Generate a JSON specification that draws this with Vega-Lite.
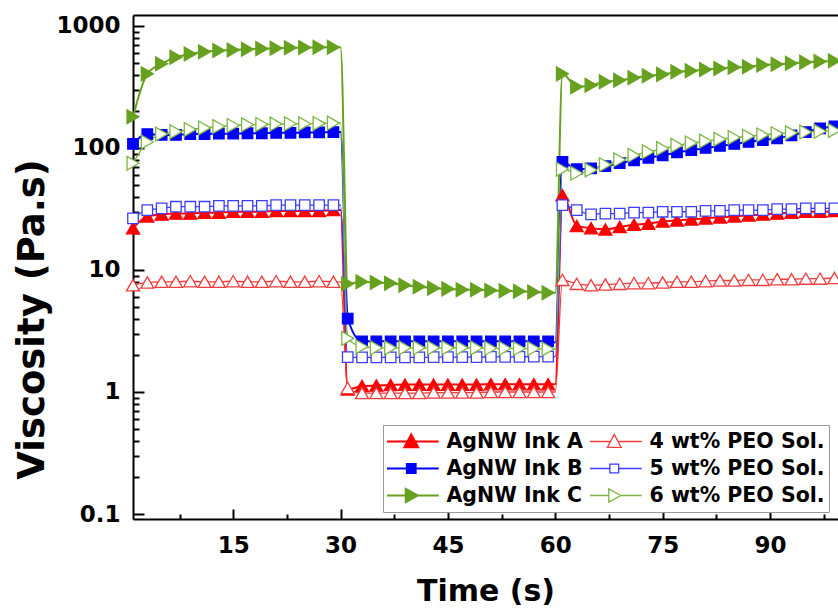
{
  "$schema": "https://vega.github.io/schema/vega-lite/v6.json",
  "width": 705,
  "height": 504,
  "autosize": {"type": "none"},
  "padding": {"left": 133, "top": 15, "right": 0, "bottom": 92},
  "background": "white",
  "config": {
    "view": {"stroke": null},
    "axis": {
      "grid": false,
      "domainColor": "black",
      "domainWidth": 2,
      "tickColor": "black",
      "tickWidth": 2,
      "labelFont": "DejaVu Sans",
      "labelFontWeight": "bold",
      "labelFontSize": 23,
      "labelColor": "black",
      "titleFont": "DejaVu Sans",
      "titleFontWeight": "bold",
      "titleColor": "black",
      "labelOverlap": false,
      "labelFlush": false,
      "labelBound": false
    }
  },
  "data": {
    "values": [
      {"t": 1, "A": 22, "B": 108, "C": 180, "P4": 7.5, "P5": 26.5, "P6": 75},
      {"t": 3, "A": 27.5, "B": 130, "C": 405, "P4": 7.9, "P5": 31, "P6": 112},
      {"t": 5, "A": 28.5, "B": 128, "C": 490, "P4": 8.0, "P5": 32, "P6": 130},
      {"t": 7, "A": 29, "B": 128, "C": 555, "P4": 8.0, "P5": 33, "P6": 136},
      {"t": 9, "A": 29, "B": 130, "C": 590, "P4": 8.1, "P5": 33, "P6": 142},
      {"t": 11, "A": 29.5, "B": 130, "C": 615, "P4": 8.0, "P5": 33, "P6": 146},
      {"t": 13, "A": 29.5, "B": 131, "C": 630, "P4": 8.0, "P5": 33.5, "P6": 150},
      {"t": 15, "A": 30, "B": 131, "C": 635, "P4": 8.1, "P5": 33.5, "P6": 153},
      {"t": 17, "A": 30, "B": 132, "C": 645, "P4": 8.0, "P5": 33.5, "P6": 155},
      {"t": 19, "A": 30, "B": 132, "C": 652, "P4": 8.0, "P5": 33.5, "P6": 156},
      {"t": 21, "A": 30.5, "B": 133, "C": 658, "P4": 8.1, "P5": 34, "P6": 157},
      {"t": 23, "A": 30.5, "B": 133, "C": 662, "P4": 8.0, "P5": 34, "P6": 158},
      {"t": 25, "A": 30.5, "B": 134, "C": 665, "P4": 8.0, "P5": 34, "P6": 158},
      {"t": 27, "A": 30.5, "B": 134, "C": 668, "P4": 8.1, "P5": 34, "P6": 159},
      {"t": 29, "A": 31, "B": 135, "C": 670, "P4": 8.0, "P5": 34, "P6": 160},
      {"t": 30, "A": 31, "B": 135, "C": 670, "P4": 8.0, "P5": 34, "P6": 160},
      {"t": 31, "A": 1.05, "B": 4.0, "C": 7.7, "P4": 1.08, "P5": 1.93, "P6": 2.75},
      {"t": 33, "A": 1.12, "B": 2.6, "C": 8.0, "P4": 0.98, "P5": 1.92, "P6": 2.35},
      {"t": 35, "A": 1.13, "B": 2.6, "C": 7.9, "P4": 0.98, "P5": 1.92, "P6": 2.3},
      {"t": 37, "A": 1.14, "B": 2.6, "C": 7.8, "P4": 0.98, "P5": 1.92, "P6": 2.3},
      {"t": 39, "A": 1.15, "B": 2.6, "C": 7.5, "P4": 0.98, "P5": 1.92, "P6": 2.3},
      {"t": 41, "A": 1.15, "B": 2.6, "C": 7.3, "P4": 0.98, "P5": 1.92, "P6": 2.3},
      {"t": 43, "A": 1.15, "B": 2.6, "C": 7.1, "P4": 0.99, "P5": 1.93, "P6": 2.3},
      {"t": 45, "A": 1.15, "B": 2.6, "C": 7.0, "P4": 0.99, "P5": 1.93, "P6": 2.3},
      {"t": 47, "A": 1.15, "B": 2.6, "C": 6.9, "P4": 0.99, "P5": 1.93, "P6": 2.3},
      {"t": 49, "A": 1.15, "B": 2.6, "C": 6.9, "P4": 0.99, "P5": 1.93, "P6": 2.3},
      {"t": 51, "A": 1.16, "B": 2.6, "C": 6.8, "P4": 1.0, "P5": 1.94, "P6": 2.28},
      {"t": 53, "A": 1.16, "B": 2.6, "C": 6.75, "P4": 1.0, "P5": 1.94, "P6": 2.28},
      {"t": 55, "A": 1.16, "B": 2.6, "C": 6.7, "P4": 1.0, "P5": 1.94, "P6": 2.27},
      {"t": 57, "A": 1.16, "B": 2.6, "C": 6.6, "P4": 1.0, "P5": 1.95, "P6": 2.27},
      {"t": 59, "A": 1.16, "B": 2.6, "C": 6.5, "P4": 1.0, "P5": 1.95, "P6": 2.25},
      {"t": 60, "A": 1.16, "B": 2.55, "C": 6.5, "P4": 1.0, "P5": 1.95, "P6": 2.25},
      {"t": 61, "A": 41, "B": 77, "C": 405, "P4": 8.3, "P5": 34, "P6": 67},
      {"t": 63, "A": 23, "B": 67, "C": 317, "P4": 7.7, "P5": 31, "P6": 62},
      {"t": 65, "A": 22, "B": 68, "C": 327, "P4": 7.5, "P5": 28.6, "P6": 66},
      {"t": 67, "A": 21.5, "B": 71, "C": 349, "P4": 7.6, "P5": 29, "P6": 73},
      {"t": 69, "A": 22.5, "B": 75, "C": 359, "P4": 7.7, "P5": 29, "P6": 80},
      {"t": 71, "A": 23.5, "B": 79, "C": 376, "P4": 7.8, "P5": 29.5, "P6": 87},
      {"t": 73, "A": 24, "B": 83, "C": 391, "P4": 7.8, "P5": 29.5, "P6": 93},
      {"t": 75, "A": 25, "B": 87, "C": 401, "P4": 7.9, "P5": 30, "P6": 99},
      {"t": 77, "A": 25.5, "B": 92, "C": 421, "P4": 8.0, "P5": 30, "P6": 105},
      {"t": 79, "A": 26, "B": 96, "C": 430, "P4": 8.0, "P5": 30, "P6": 110},
      {"t": 81, "A": 26.5, "B": 100, "C": 440, "P4": 8.1, "P5": 30.5, "P6": 114},
      {"t": 83, "A": 27, "B": 104, "C": 449, "P4": 8.2, "P5": 30.5, "P6": 118},
      {"t": 85, "A": 27.5, "B": 108, "C": 458, "P4": 8.2, "P5": 31, "P6": 122},
      {"t": 87, "A": 28, "B": 112, "C": 463, "P4": 8.3, "P5": 31, "P6": 125},
      {"t": 89, "A": 28.5, "B": 116, "C": 479, "P4": 8.3, "P5": 31, "P6": 128},
      {"t": 91, "A": 29, "B": 120, "C": 485, "P4": 8.4, "P5": 31.5, "P6": 131},
      {"t": 93, "A": 29.5, "B": 127, "C": 495, "P4": 8.4, "P5": 31.5, "P6": 133},
      {"t": 95, "A": 30, "B": 135, "C": 504, "P4": 8.5, "P5": 32, "P6": 135},
      {"t": 97, "A": 30, "B": 145, "C": 511, "P4": 8.5, "P5": 32, "P6": 137},
      {"t": 99, "A": 30.5, "B": 150, "C": 518, "P4": 8.6, "P5": 32, "P6": 139}
    ]
  },
  "transform": [
    {"fold": ["A", "B", "C", "P4", "P5", "P6"], "as": ["series", "v"]}
  ],
  "resolve": {"axis": {"x": "independent", "y": "independent"}},
  "layer": [
    {
      "mark": {"type": "line", "interpolate": "monotone"},
      "encoding": {
        "x": {
          "field": "t", "type": "quantitative",
          "scale": {"domain": [1, 99.5], "nice": false, "zero": false},
          "axis": {
            "orient": "bottom",
            "values": [7.5, 15, 22.5, 30, 37.5, 45, 52.5, 60, 67.5, 75, 82.5, 90, 97.5],
            "labelExpr": "datum.value % 15 == 0 ? datum.label : ''",
            "tickSize": {"condition": {"test": "datum.value % 15 == 0", "value": -10}, "value": -5},
            "labelPadding": 25,
            "title": "Time (s)",
            "titleFontSize": 30,
            "titleBaseline": "alphabetic",
            "titleY": 81
          }
        },
        "y": {
          "field": "v", "type": "quantitative",
          "scale": {"type": "log", "domain": [0.091, 1230], "nice": false},
          "axis": {
            "orient": "left",
            "values": [0.1, 0.2, 0.3, 0.4, 0.5, 0.6, 0.7, 0.8, 0.9, 1, 2, 3, 4, 5, 6, 7, 8, 9, 10, 20, 30, 40, 50, 60, 70, 80, 90, 100, 200, 300, 400, 500, 600, 700, 800, 900, 1000],
            "format": "~g",
            "labelExpr": "indexof([0.1, 1, 10, 100, 1000], datum.value) >= 0 ? datum.label : ''",
            "tickSize": {"condition": {"test": "indexof([0.1, 1, 10, 100, 1000], datum.value) >= 0", "value": -11}, "value": -6},
            "labelPadding": 24,
            "title": "Viscosity (Pa.s)",
            "titleFontSize": 37,
            "titleBaseline": "alphabetic",
            "titleX": -90,
            "titleY": 304
          }
        },
        "stroke": {
          "field": "series", "type": "nominal",
          "scale": {
            "domain": ["A", "B", "C", "P4", "P5", "P6"],
            "range": ["#ff0000", "#0000ff", "#66a11f", "#f03c3c", "#3c3cff", "#7db544"]
          },
          "legend": {
            "orient": "none",
            "legendX": 250,
            "legendY": 410,
            "columns": 2,
            "title": null,
            "labelFont": "DejaVu Sans",
            "labelFontWeight": "bold",
            "labelFontSize": 20.5,
            "labelColor": "black",
            "labelLimit": 400,
            "symbolSize": 3025,
            "clipHeight": 25,
            "rowPadding": 2,
            "columnPadding": 7,
            "symbolOffset": 14,
            "labelOffset": 25,
            "padding": 4,
            "strokeColor": "#999999",
            "fillColor": "white",
            "labelExpr": "datum.value == 'A' ? 'AgNW Ink A' : datum.value == 'B' ? 'AgNW Ink B' : datum.value == 'C' ? 'AgNW Ink C' : datum.value == 'P4' ? '4 wt% PEO Sol.' : datum.value == 'P5' ? '5 wt% PEO Sol.' : '6 wt% PEO Sol.'",
            "encode": {
              "symbols": {
                "update": {
                  "shape": {"signal": "(datum.value == 'A' || datum.value == 'P4') ? 'M-1,0H-0.16M0.16,0H1M0,-0.26L0.25,0.21L-0.25,0.21Z' : (datum.value == 'B' || datum.value == 'P5') ? 'M-1,0H-0.16M0.16,0H1M-0.16,-0.16H0.16V0.16H-0.16Z' : 'M-1,0H-0.2M0.24,0H1M-0.2,-0.24L0.24,0L-0.2,0.24Z'"},
                  "strokeWidth": {"signal": "(datum.value == 'A' || datum.value == 'B' || datum.value == 'C') ? 2 : 1.3"},
                  "fill": {"signal": "indexof(['P4','P5','P6'], datum.value) >= 0 ? '#ffffff' : scale('stroke', datum.value)"},
                  "fillOpacity": {"value": 1},
                  "opacity": {"value": 1}
                }
              }
            }
          }
        },
        "strokeWidth": {
          "condition": {"test": "indexof(['A','B','C'], datum.series) >= 0", "value": 2},
          "value": 1.3
        }
      }
    },
    {
      "transform": [{"filter": "datum.t % 2 == 1"}],
      "mark": {"type": "point", "strokeWidth": 1.3, "opacity": 1},
      "encoding": {
        "x": {
          "field": "t", "type": "quantitative",
          "axis": {"orient": "top", "labels": false, "ticks": false, "title": null, "domain": true}
        },
        "y": {"field": "v", "type": "quantitative", "axis": null},
        "stroke": {"field": "series", "type": "nominal"},
        "fill": {
          "condition": [
            {"test": "datum.series == 'A'", "value": "#ff0000"},
            {"test": "datum.series == 'B'", "value": "#0000ff"},
            {"test": "datum.series == 'C'", "value": "#66a11f"}
          ],
          "value": "#ffffff"
        },
        "shape": {
          "condition": [
            {"test": "datum.series == 'B' || datum.series == 'P5'", "value": "square"},
            {"test": "datum.series == 'C' || datum.series == 'P6'", "value": "triangle-right"}
          ],
          "value": "triangle-up"
        },
        "size": {
          "condition": [
            {"test": "datum.series == 'B' || datum.series == 'P5'", "value": 110},
            {"test": "datum.series == 'C' || datum.series == 'P6'", "value": 190}
          ],
          "value": 170
        }
      }
    }
  ]
}
